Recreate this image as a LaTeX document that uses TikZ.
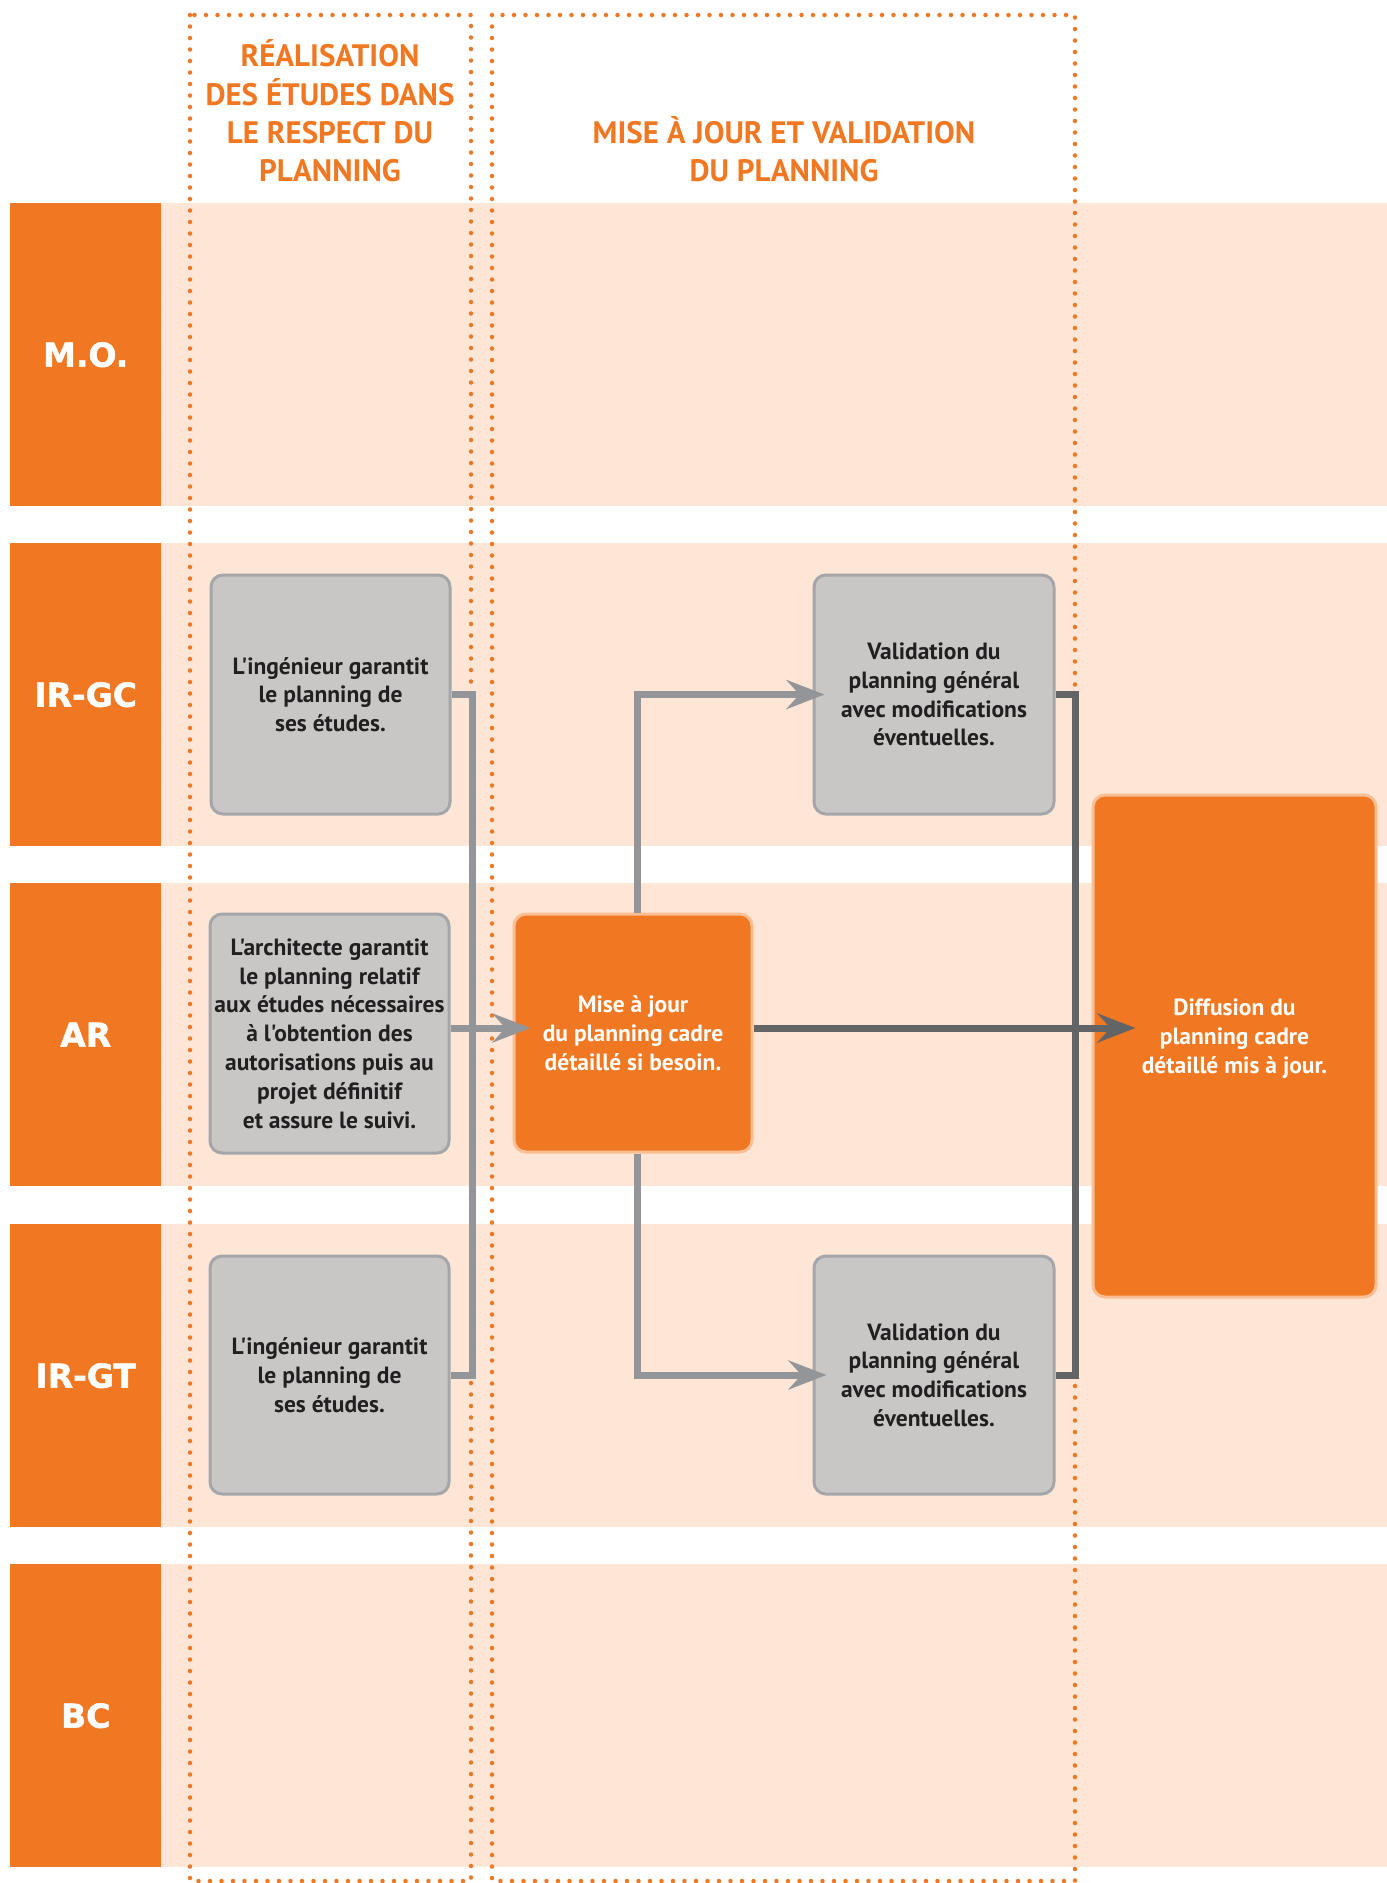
\documentclass[tikz,border=0pt]{standalone}
\usepackage{fontspec}
\setmainfont{PT Sans}
\newfontfamily\condfont{PT Sans}
\newfontfamily\lanefont[FakeBold=1.5]{DejaVu Sans}
\usetikzlibrary{arrows.meta}
\definecolor{orng}{HTML}{F07822}
\definecolor{orngedge}{HTML}{F9BE94}
\definecolor{band}{HTML}{FDE6D5}
\definecolor{boxfill}{HTML}{C8C7C6}
\definecolor{boxedge}{HTML}{A5A6A9}
\definecolor{lconn}{HTML}{939598}
\definecolor{dconn}{HTML}{636466}
\definecolor{boxtext}{HTML}{231F20}
\tikzset{
  lanebox/.style={fill=orng, draw=none, text=white, inner sep=0pt,
    font=\lanefont\bfseries\fontsize{33}{33}\selectfont, anchor=north west,
    minimum width=151pt, minimum height=303pt},
  graybox/.style={fill=boxfill, draw=boxedge, line width=3pt, rounded corners=12pt,
    text=boxtext, align=center, inner sep=0pt,
    font=\condfont\bfseries\fontsize{23.5}{28.8}\selectfont},
  orangebox/.style={fill=orng, draw=orngedge, line width=3pt, rounded corners=12pt,
    text=white, align=center, inner sep=0pt,
    font=\condfont\bfseries\fontsize{23.5}{28.8}\selectfont},
  headtext/.style={text=orng, align=center, inner sep=0pt,
    font=\condfont\bfseries\fontsize{31}{38.4}\selectfont},
  dotcol/.style={draw=orng, line width=4.5pt, line cap=round, dash pattern=on 0pt off 11.5pt},
  lightline/.style={draw=lconn, line width=7pt},
  darkline/.style={draw=dconn, line width=7pt},
  tip/.style={-{Stealth[length=38pt, width=29pt, inset=13pt]}}
}
\begin{document}
\begin{tikzpicture}[x=1pt,y=-1pt]
\useasboundingbox (0,0) rectangle (1387,1883);
\clip (0,0) rectangle (1387,1883);
\fill[white] (0,0) rectangle (1387,1883);
% lanes
\foreach \t/\nm/\lab in {203/mo/M.O., 543/irgc/IR-GC, 883/ar/AR, 1224/irgt/IR-GT, 1564/bc/BC}{
  \fill[band] (161,\t) rectangle (1387,\t+303);
  \node[lanebox] (lane-\nm) at (10,\t) {\lab};
}
% dotted columns
\draw[dotcol] (190,15) rectangle (471,1881);
\draw[dotcol] (492,15) rectangle (1075,1881);
% headers
\node[headtext] (h1) at (330,111) {RÉALISATION\\DES ÉTUDES DANS\\LE RESPECT DU\\PLANNING};
\node[headtext] (h2) at (784,149) {MISE À JOUR ET VALIDATION\\DU PLANNING};
% boxes
\node[graybox, minimum width=239pt, minimum height=239pt] (g1) at (330.5,694.5)
  {L'ingénieur garantit\\le planning de\\ses études.};
\node[graybox, minimum width=239pt, minimum height=239pt] (g2) at (329.5,1033.5)
  {L'architecte garantit\\le planning relatif\\aux études nécessaires\\à l'obtention des\\autorisations puis au\\projet définitif\\et assure le suivi.};
\node[graybox, minimum width=239pt, minimum height=238pt] (g3) at (329.5,1375)
  {L'ingénieur garantit\\le planning de\\ses études.};
\node[orangebox, minimum width=238pt, minimum height=238pt] (maj) at (633,1033)
  {Mise à jour\\du planning cadre\\détaillé si besoin.};
\node[graybox, minimum width=240pt, minimum height=239pt] (v1) at (934,694.5)
  {Validation du\\planning général\\avec modifications\\éventuelles.};
\node[graybox, minimum width=240pt, minimum height=238pt] (v2) at (934,1375)
  {Validation du\\planning général\\avec modifications\\éventuelles.};
\node[orangebox, minimum width=283pt, minimum height=502pt] (diff) at (1234.5,1046)
  {\raisebox{1pt}[0pt][0pt]{\begin{tabular}{@{}c@{}}Diffusion du\\planning cadre\\détaillé mis à jour.\end{tabular}}};
% junction coordinates
\coordinate (jL) at (472,0);
\coordinate (jR) at (1075,0);
\coordinate (mid) at (0,1028);
% connectors
\draw[lightline] (g1.east) -- (g1.east -| jL) -- (g3.east -| jL) -- (g3.east);
\draw[lightline, tip] (g2.east |- mid) -- ([xshift=18pt]maj.west |- mid);
\draw[lightline, tip] ([xshift=4pt]maj.north) -- ([xshift=4pt]maj.north |- v1.west) -- ([xshift=12pt]v1.west);
\draw[lightline, tip] ([xshift=4pt]maj.south) -- ([xshift=4pt]maj.south |- v2.west) -- ([xshift=14pt]v2.west);
\draw[darkline] (v1.east) -- (v1.east -| jR) -- (v2.east -| jR) -- (v2.east);
\draw[darkline, tip] (maj.east |- mid) -- ([xshift=44pt]diff.west |- mid);
\end{tikzpicture}
\end{document}
